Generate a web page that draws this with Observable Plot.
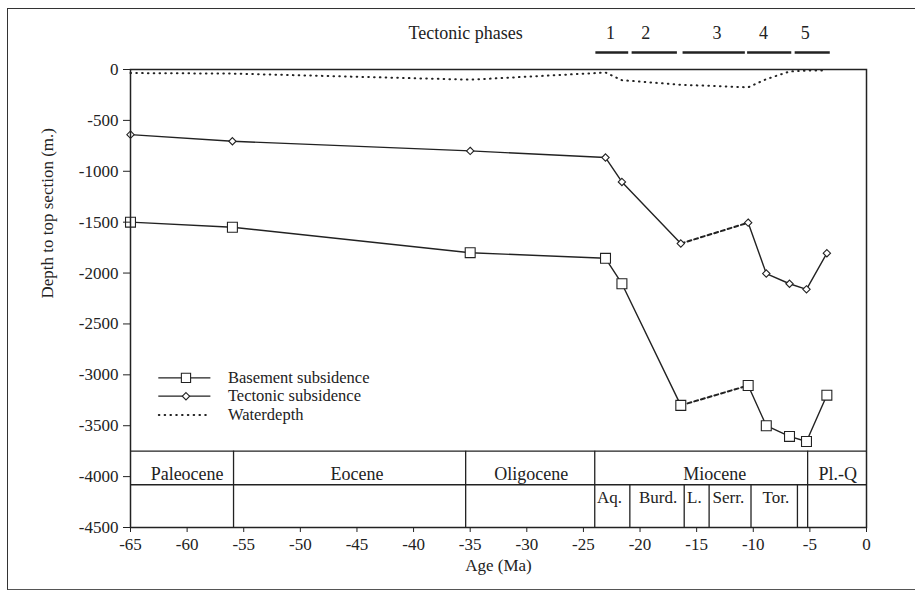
<!DOCTYPE html>
<html>
<head>
<meta charset="utf-8">
<script src="https://cdn.jsdelivr.net/npm/d3@7"></script>
<script src="https://cdn.jsdelivr.net/npm/@observablehq/plot@0.6"></script>
<style>
  html, body { margin: 0; padding: 0; background: #fff; }
  #wrap { position: relative; width: 915px; height: 591px; overflow: hidden; }
  #border { position: absolute; left: 7px; top: 8px; width: 960px; height: 580px;
            border-left: 1.5px solid #333; border-top: 1.5px solid #333; border-bottom: 1.5px solid #555; }
  #chart { position: absolute; left: 0; top: 0; }
</style>
</head>
<body>
<div id="wrap"><div id="chart"></div><div id="border"></div></div>
<script>
// ---- data ----
const ages      = [-65, -56, -35, -23.05, -21.6, -16.4, -10.45, -8.85, -6.8, -5.3, -3.5];
const basement  = [-1500, -1550, -1800, -1855, -2105, -3300, -3105, -3500, -3605, -3655, -3200];
const tectonic  = [-640, -705, -800, -865, -1105, -1710, -1505, -2005, -2105, -2160, -1805];
const water     = [-35, -40, -100, -30, -105, -150, -175, -95, -20, -10, -10];

const epochNames  = ["Paleocene", "Eocene", "Oligocene", "Miocene", "Pl.-Q"];
const epochLabelX = [-60.0, -45.0, -29.6, -13.4, -2.55];
const epochBounds = [-55.9, -35.4, -24.0, -5.2];
const stageNames  = ["Aq.", "Burd.", "L.", "Serr.", "Tor."];
const stageLabelX = [-22.7, -18.4, -15.2, -12.2, -8.0];
const stageBounds = [-20.9, -16.1, -13.9, -10.2, -6.1];

const phaseNames  = ["1", "2", "3", "4", "5"];
const phaseStart  = [-23.9, -20.7, -16.2, -10.5, -6.3];
const phaseEnd    = [-21.0, -16.7, -10.7, -6.6, -3.2];
const phaseLabelX = [-22.6, -19.5, -13.2, -9.1, -5.4];

const xTicks = d3.range(-65, 1, 5);
const yTicks = d3.range(-4500, 1, 500);

const legendNames = ["Basement subsidence", "Tectonic subsidence", "Waterdepth"];
const legendY     = [-3030, -3210, -3395];

// ---- derived tables ----
const rows = vals => ages.map((a, i) => ({age: a, v: vals[i], i}));
const gapA = 5, gapB = 6; // data gap drawn dashed
const ink = "#222";
const F = "Liberation Serif";
const dotted = {stroke: ink, strokeWidth: 2, strokeDasharray: "0.6,5.2", strokeLinecap: "round"};

function seriesMarks(vals, symbol, r) {
  const R = rows(vals);
  return [
    Plot.line(R.filter(d => d.i <= gapA), {x: "age", y: "v", stroke: ink, strokeWidth: 1.4}),
    Plot.line(R.filter(d => d.i >= gapB), {x: "age", y: "v", stroke: ink, strokeWidth: 1.4}),
    Plot.line(R.filter(d => d.i === gapA || d.i === gapB), {x: "age", y: "v", stroke: ink, strokeWidth: 2, strokeDasharray: "4,3"}),
    Plot.dot(R, {x: "age", y: "v", symbol, r, stroke: ink, fill: "white", strokeWidth: 1.1})
  ];
}

const epochRows = epochNames.map((n, i) => ({n, x: epochLabelX[i]}));
const stageRows = stageNames.map((n, i) => ({n, x: stageLabelX[i]}));
const phaseRows = phaseNames.map((n, i) => ({n, x1: phaseStart[i], x2: phaseEnd[i], x: phaseLabelX[i]}));

const chart = Plot.plot({
  width: 915,
  height: 591,
  marginLeft: 130,
  marginRight: 49,
  marginTop: 69,
  marginBottom: 64,
  style: {fontFamily: F, fontSize: "17px", color: ink, background: "white", overflow: "visible"},
  x: {domain: [-65, 0], ticks: xTicks},
  y: {domain: [-4500, 0], ticks: yTicks},
  marks: [
    // geologic time boxes
    Plot.ruleY([-3750, -4080], {x1: -65, x2: 0, stroke: ink, strokeWidth: 1.3}),
    Plot.ruleX(epochBounds, {y1: -3750, y2: -4500, stroke: ink, strokeWidth: 1.3}),
    Plot.ruleX(stageBounds, {y1: -4080, y2: -4500, stroke: ink, strokeWidth: 1.3}),
    Plot.text(epochRows, {x: "x", y: -3979, text: "n", fontSize: 18, fill: ink}),
    Plot.text(stageRows, {x: "x", y: -4205, text: "n", fontSize: 17, fill: ink}),

    // waterdepth dotted
    Plot.line(rows(water), {x: "age", y: "v", ...dotted}),
    ...seriesMarks(basement, "square", 5.6),
    ...seriesMarks(tectonic, "diamond2", 3.3),

    // frame and axes
    Plot.frame({stroke: ink, strokeWidth: 1.5}),
    Plot.axisX({ticks: xTicks, tickSize: 5, tickPadding: 5, label: null, fontSize: 17, tickFormat: d => String(d), stroke: ink}),
    Plot.axisY({ticks: yTicks, tickSize: 7, tickPadding: 5, label: null, fontSize: 17, tickFormat: d => String(d), stroke: ink}),
    Plot.text(["Age (Ma)"], {frameAnchor: "bottom", dy: 43, fontSize: 17, fill: ink}),
    Plot.text(["Depth to top section (m.)"], {frameAnchor: "left", dx: -83, rotate: -90, fontSize: 17, fill: ink}),

    // tectonic phases above the plot
    Plot.ruleY(phaseRows, {x1: "x1", x2: "x2", y: 167, stroke: ink, strokeWidth: 2.6}),
    Plot.text(phaseRows, {x: "x", y: 354, text: "n", fontSize: 18, fill: ink}),
    Plot.text(["Tectonic phases"], {x: -35.4, y: 354, fontSize: 18, fill: ink}),

    // legend
    Plot.ruleY(legendY.slice(0, 2), {x1: -62.5, x2: -57.9, stroke: ink, strokeWidth: 1.3}),
    Plot.line([{x: -62.5, y: legendY[2]}, {x: -57.9, y: legendY[2]}], {x: "x", y: "y", ...dotted}),
    Plot.dot([{x: -60.1, y: legendY[0]}], {x: "x", y: "y", symbol: "square", r: 5.2, stroke: ink, fill: "white", strokeWidth: 1.1}),
    Plot.dot([{x: -60.1, y: legendY[1]}], {x: "x", y: "y", symbol: "diamond2", r: 3.3, stroke: ink, fill: "white", strokeWidth: 1.1}),
    Plot.text(legendNames.map((n, i) => ({n, y: legendY[i]})), {x: -56.4, y: "y", text: "n", textAnchor: "start", fontSize: 16.5, fill: ink})
  ]
});
document.getElementById("chart").appendChild(chart);
</script>
</body>
</html>
